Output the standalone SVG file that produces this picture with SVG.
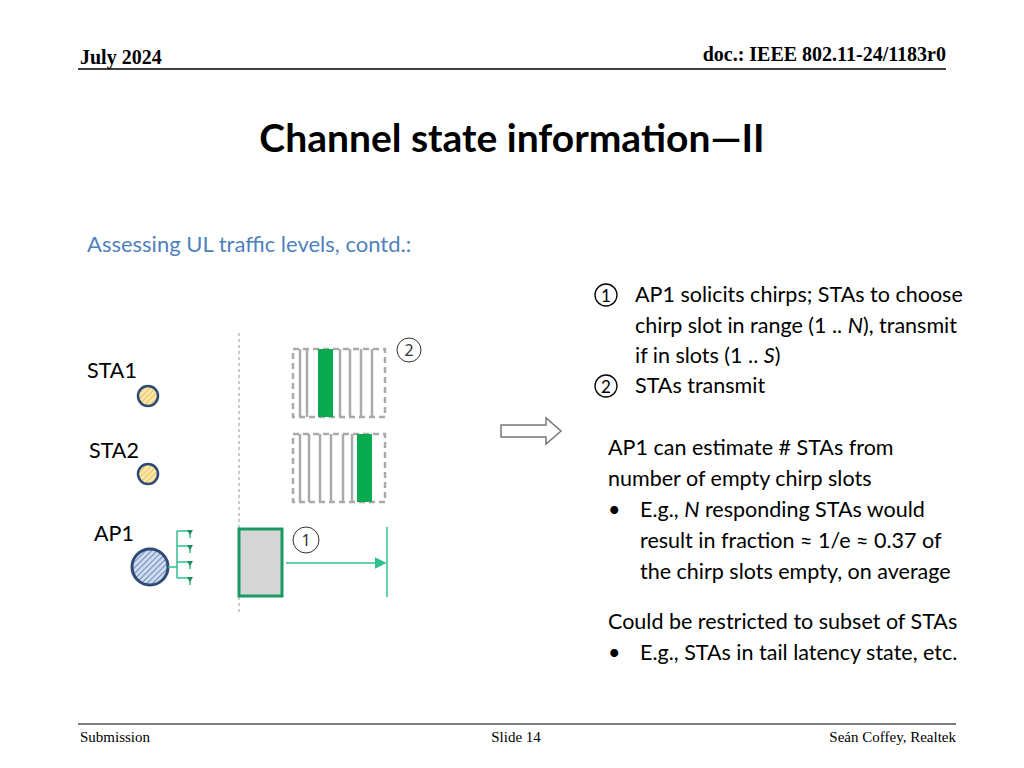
<svg xmlns="http://www.w3.org/2000/svg" width="1024" height="768" viewBox="0 0 1024 768">
<style>
.h{font-family:"Liberation Serif",serif;font-weight:bold;font-size:20px}
.f{font-family:"Liberation Serif",serif;font-size:15px}
.c{font-family:Lato,"Noto Sans",sans-serif;font-size:21.5px;fill:#000}
.s{stroke:#aaa;stroke-width:2.5;fill:none}
.cn{font-family:"Noto Sans",sans-serif;font-size:16px;fill:#333}
</style>
<defs>
<pattern id="hy" width="4" height="4" patternUnits="userSpaceOnUse" patternTransform="rotate(45)"><rect width="4" height="4" fill="#fbe7a8"/><line x1="0" y1="0" x2="0" y2="4" stroke="#e0b850" stroke-width="1.5"/></pattern>
<pattern id="hb" width="4" height="4" patternUnits="userSpaceOnUse" patternTransform="rotate(45)"><rect width="4" height="4" fill="#cfdcef"/><line x1="0" y1="0" x2="0" y2="4" stroke="#4a6fa8" stroke-width="1.5"/></pattern>
<marker id="ar" markerWidth="8" markerHeight="8" refX="7" refY="4" orient="auto"><path d="M0,0 L8,4 L0,8 z" fill="#2fbf8f"/></marker>
</defs>
<rect width="1024" height="768" fill="#fff"/>
<text class="h" x="80" y="64">July 2024</text>
<text class="h" x="946" y="61" text-anchor="end">doc.: IEEE 802.11-24/1183r0</text>
<line x1="78" y1="69" x2="946" y2="69" stroke="#000" stroke-width="1.5"/>
<text x="512" y="152" text-anchor="middle" font-family="Lato,Noto Sans,sans-serif" font-weight="bold" font-size="39">Channel state information—II</text>
<text x="87" y="252" font-family="Lato,Noto Sans,sans-serif" font-size="22" fill="#4f81bd">Assessing UL traffic levels, contd.:</text>
<g id="text-right">
<circle cx="606" cy="295" r="11" fill="none" stroke="#000" stroke-width="1.3"/><text x="606" y="302" text-anchor="middle" font-family="Lato,sans-serif" font-size="17">1</text>
<text class="c" x="635" y="302">AP1 solicits chirps; STAs to choose</text>
<text class="c" x="635" y="333">chirp slot in range (1 .. <tspan font-style="italic">N</tspan>), transmit</text>
<text class="c" x="635" y="363">if in slots (1 .. <tspan font-style="italic">S</tspan>)</text>
<circle cx="606" cy="386" r="11" fill="none" stroke="#000" stroke-width="1.3"/><text x="606" y="393" text-anchor="middle" font-family="Lato,sans-serif" font-size="17">2</text>
<text class="c" x="635" y="393">STAs transmit</text>
<text class="c" x="608" y="455">AP1 can estimate # STAs from</text>
<text class="c" x="608" y="486">number of empty chirp slots</text>
<text class="c" x="608" y="517">•</text><text class="c" x="640" y="517">E.g., <tspan font-style="italic">N</tspan> responding STAs would</text>
<text class="c" x="640" y="548">result in fraction ≈ 1/e ≈ 0.37 of</text>
<text class="c" x="640" y="579">the chirp slots empty, on average</text>
<text class="c" x="608" y="629">Could be restricted to subset of STAs</text>
<text class="c" x="608" y="660">•</text><text class="c" x="640" y="660">E.g., STAs in tail latency state, etc.</text>
</g>
<g id="sta1"><text class="c" x="87" y="378">STA1</text><circle cx="148" cy="396" r="10" fill="url(#hy)" stroke="#2e4a75" stroke-width="2.5"/></g>
<g id="sta2"><text class="c" x="89" y="458">STA2</text><circle cx="148" cy="474" r="10" fill="url(#hy)" stroke="#2e4a75" stroke-width="2.5"/></g>
<g id="ap1"><text class="c" x="94" y="541">AP1</text><circle cx="150" cy="567" r="18" fill="url(#hb)" stroke="#2e4a75" stroke-width="3"/>
<path d="M168,567 H177 M177,531 V578 M177,531 H190 M177,546 H190 M177,562 H190 M177,578 H190 M190,531 V538 M190,546 V553 M190,562 V569 M190,578 V585" stroke="#2fbf8f" stroke-width="1.5" fill="none"/>
<g fill="#1a8a5a"><path d="M187,530 h6 l-3,5z"/><path d="M187,545 h6 l-3,5z"/><path d="M187,561 h6 l-3,5z"/><path d="M187,577 h6 l-3,5z"/></g></g>
<line x1="239" y1="333" x2="239" y2="612" stroke="#bbb" stroke-width="1.5" stroke-dasharray="3,3"/>
<g id="slots2">
<rect x="293" y="349" width="92" height="68" fill="none" stroke="#aaa" stroke-width="2.5" stroke-dasharray="6,4"/>
<path class="s" d="M300,349 V417 M307,349 V417 M340,349 V417 M350,349 V417 M361,349 V417 M372,349 V417"/>
<rect x="318" y="349" width="15" height="68" fill="#0aaa50"/>
<rect x="293" y="434" width="92" height="68" fill="none" stroke="#aaa" stroke-width="2.5" stroke-dasharray="6,4"/>
<path class="s" d="M300,434 V502 M309,434 V502 M320,434 V502 M331,434 V502 M343,434 V502 M352,434 V502"/>
<rect x="357" y="434" width="15" height="68" fill="#0aaa50"/>
<circle cx="409" cy="350" r="12" fill="none" stroke="#333"/><text class="cn" x="409" y="356" text-anchor="middle">2</text>
</g>
<g id="slot1">
<rect x="239" y="529" width="43" height="67" fill="#d6d6d6" stroke="#1a9a60" stroke-width="3"/>
<circle cx="306" cy="540" r="13" fill="none" stroke="#333"/><text class="cn" x="306" y="546" text-anchor="middle">1</text>
</g>
<g id="connectors">
<line x1="286" y1="563" x2="385" y2="563" stroke="#2fbf8f" stroke-width="1.5" marker-end="url(#ar)"/>
<line x1="387" y1="527" x2="387" y2="597" stroke="#2fbf8f" stroke-width="1.5"/>
<path d="M501,425 H546 V418 L561,431 L546,444 V437 H501 Z" fill="#fff" stroke="#777" stroke-width="1.5"/>
</g>
<line x1="78" y1="724" x2="956" y2="724" stroke="#000" stroke-width="1"/>
<text class="f" x="80" y="742">Submission</text>
<text class="f" x="516" y="742" text-anchor="middle">Slide 14</text>
<text class="f" x="956" y="742" text-anchor="end">Seán Coffey, Realtek</text>
</svg>
